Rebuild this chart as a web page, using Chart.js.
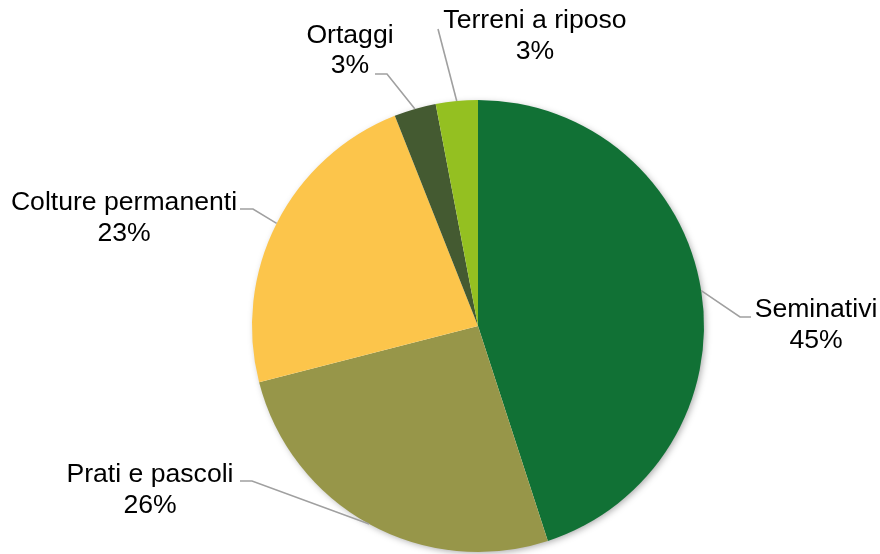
<!DOCTYPE html>
<html>
<head>
<meta charset="utf-8">
<script src="https://cdn.jsdelivr.net/npm/chart.js@4"></script>
<style>
  html, body { margin: 0; padding: 0; background: #fff; }
  #wrap { width: 880px; height: 554px; position: relative; }
</style>
</head>
<body>
<div id="wrap"><canvas id="pie_chart"></canvas></div>
<script>
// data
const categories = ["Seminativi", "Prati e pascoli", "Colture permanenti", "Ortaggi", "Terreni a riposo"]
const shares = [45, 26, 23, 3, 3]
const percentLabels = ["45%", "26%", "23%", "3%", "3%"]

const sliceColors = ["#117135", "#979649", "#FCC54B", "#445A31", "#94C021"]

// where each label sits: text centre x, first baseline y, and the leader elbow / end
const labelLayout = [
    { x: 816, y: 317, elbow: [740, 317], end: [751, 317] },
    { x: 150, y: 482, elbow: [252, 481], end: [240, 481] },
    { x: 124, y: 210, elbow: [253, 209], end: [240, 209] },
    { x: 350, y: 43, lineY: 73, elbow: [387, 74], end: [375, 74] },
    { x: 535, y: 28, elbow: null, end: [438, 29] }
]

const FONT = '26.6px "Liberation Sans", Arial, sans-serif'
const LINE_GAP = 31

// soft shadow under the whole pie
const pieShadow = {
    id: "pieShadow",
    beforeDatasetsDraw(chart) {
        const arc = chart.getDatasetMeta(0).data[0]
        if (!arc) return
        const ctx = chart.ctx
        ctx.save()
        ctx.shadowColor = "rgba(0,0,0,0.35)"
        ctx.shadowBlur = 7
        ctx.shadowOffsetX = 2
        ctx.shadowOffsetY = 2
        ctx.fillStyle = "#ffffff"
        ctx.beginPath()
        ctx.arc(arc.x, arc.y, arc.outerRadius - 1, 0, Math.PI * 2)
        ctx.fill()
        ctx.restore()
    }
}

// labels with leader lines, starting from the middle of each slice's outer edge
const leaderLabels = {
    id: "leaderLabels",
    afterDatasetsDraw(chart) {
        const ctx = chart.ctx
        const arcs = chart.getDatasetMeta(0).data
        ctx.save()
        arcs.forEach((arc, i) => {
            const mid = (arc.startAngle + arc.endAngle) / 2
            const sx = arc.x + Math.cos(mid) * arc.outerRadius
            const sy = arc.y + Math.sin(mid) * arc.outerRadius
            const lay = labelLayout[i]
            ctx.strokeStyle = "#A0A0A0"
            ctx.lineWidth = 1.6
            ctx.beginPath()
            ctx.moveTo(sx, sy)
            if (lay.elbow) ctx.lineTo(lay.elbow[0], lay.elbow[1])
            ctx.lineTo(lay.end[0], lay.end[1])
            ctx.stroke()

            ctx.fillStyle = "#000000"
            ctx.font = FONT
            ctx.textAlign = "center"
            ctx.textBaseline = "alphabetic"
            ctx.fillText(categories[i], lay.x, lay.y)
            ctx.fillText(percentLabels[i], lay.x, lay.lineY || (lay.y + LINE_GAP))
        })
        ctx.restore()
    }
}

const config = {
    type: "pie",
    data: {
        labels: categories,
        datasets: [{
            data: shares,
            backgroundColor: sliceColors,
            borderWidth: 0
        }]
    },
    options: {
        responsive: true,
        maintainAspectRatio: false,
        animation: false,
        layout: { padding: { top: 100, bottom: 2, left: 252, right: 176 } },
        plugins: {
            legend: { display: false },
            tooltip: { enabled: false }
        }
    },
    plugins: [pieShadow, leaderLabels]
}

new Chart(document.getElementById("pie_chart"), config)
</script>
</body>
</html>
